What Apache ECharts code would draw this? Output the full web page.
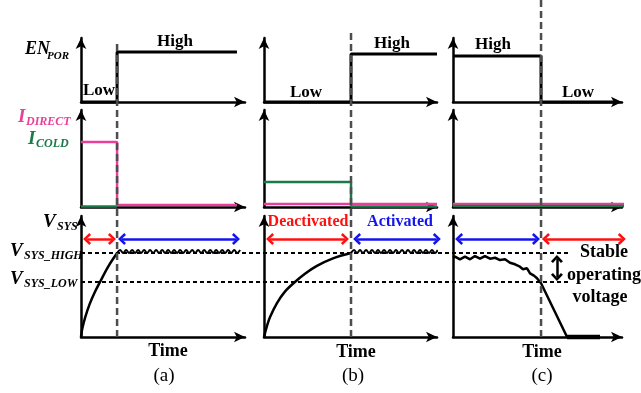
<!DOCTYPE html>
<html>
<head>
<meta charset="utf-8">
<script src="https://cdn.jsdelivr.net/npm/echarts@6/dist/echarts.min.js"></script>
<style>
html,body{margin:0;padding:0;background:#fff;}
#c{width:641px;height:393px;}
</style>
</head>
<body>
<div id="c"></div>
<script>
// ---------- DATA (time axis 0..100 per panel, level axis 0..100 per row) ----------
const panels = ['(a)', '(b)', '(c)'];
const switchTimes = [22.0, 50.3, 52.1];          // EN_POR switching instant per panel
const dashTopLevel = [88.1, 90.5, 100];          // top of the dashed switching marker (overlay scale)

// EN_POR
const enA = [[0,0],[22.0,0],[22.0,78.1],[95.1,78.1]];
const enB = [[0,0],[50.3,0],[50.3,75.0],[100,75.0]];
const enC = [[0,71.9],[52.1,71.9],[52.1,0],[97,0]];

// I_DIRECT / I_COLD
const iDirectA = [[0,67.0],[22.0,67.0],[22.0,2.1],[95.1,2.1]];
const iColdA   = [[0,0.6],[22.0,0.6]];
const iDirectB = [[0,3.1],[100,3.1]];
const iColdB   = [[0,25.8],[50.3,25.8],[50.3,0.6],[100,0.6]];
const iDirectC = [[0,3.1],[108.3,3.1]];
const iColdC   = [[0,1.0],[108.3,1.0]];

// V_SYS thresholds
const vsysHigh = 69.4;
const vsysLow = 45.5;

// V_SYS traces
const vsysRiseA = [[0,0],[0.8,7],[2.5,16],[5.2,27],[8.4,37],[11.6,45.5],[16.5,58],[22.0,69.4]];
const rippleAX = [22.0,23.8,25.7,27.5,29.3,31.2,33.0,34.8,36.6,38.5,40.3,42.1,44.0,45.8,47.6,49.5,51.3,53.1,55.0,56.8,58.6,60.4,62.3,64.1,65.9,67.8,69.6,71.4,73.3,75.1,76.9,78.8,80.6,82.4,84.2,86.1,87.9,89.7,91.6,93.4,95.2,97.0];
const rippleAY = [69.4,71.9,69.4,71.9,69.4,71.9,69.4,71.9,69.4,71.9,69.4,71.9,69.4,71.9,69.4,71.9,69.4,71.9,69.4,71.9,69.4,71.9,69.4,71.9,69.4,71.9,69.4,71.9,69.4,71.9,69.4,71.9,69.4,71.9,69.4,71.9,69.4,71.9,69.4,71.9,69.4,71.9];

const vsysRiseB = [[0,0],[1.7,9],[3.5,16.5],[7.5,28],[12.1,37.5],[17.9,45.5],[23.7,52.3],[30.6,58.8],[39.9,65],[50.3,69.4]];
const rippleBX = [50.3,52.0,53.8,55.5,57.2,59.0,60.7,62.4,64.2,65.9,67.6,69.4,71.1,72.8,74.6,76.3,78.0,79.8,81.5,83.2,85.0,86.7,88.4,90.2,91.9,93.6,95.4,97.1,98.8,100.4];
const rippleBY = [69.4,71.9,69.4,71.9,69.4,71.9,69.4,71.9,69.4,71.9,69.4,71.9,69.4,71.9,69.4,71.9,69.4,71.9,69.4,71.9,69.4,71.9,69.4,71.9,69.4,71.9,69.4,71.9,69.4,71.9];

const vsysFallC = [[0,65.5],[1.2,66.4],[4.1,64.2],[7.1,66.4],[10.1,64.2],[13.0,66.9],[16.0,64.7],[18.9,66.9],[21.9,64.7],[24.9,65.5],[27.8,63.6],[30.8,64.2],[33.7,61.4],[36.7,60.1],[39.6,58.1],[41.4,56.0],[43.8,56.8],[45.6,52.6],[47.9,50.7],[49.7,48.5],[52.1,44.4],[67.5,0]];
const vsysOffC = [[67.5,0],[87.0,0]];

// Phase arrows (level of the arrow row, start/end times)
const phaseLevel = 81.0;
const phasesA = [{from:3.7,to:18.9,state:'off'},{from:25.0,to:94.5,state:'on'}];
const phasesB = [{from:3.5,to:46.8,state:'off'},{from:53.8,to:99.9,state:'on'}];
const phasesC = [{from:3.6,to:49.1,state:'on'},{from:55.0,to:99.9,state:'off'}];
const stableArrowC = {time:61.5, from:64.5, to:49.6};

// ---------- LAYOUT / STYLE ----------
const colLayout = [{left:81,width:164},{left:264,width:173},{left:453,width:169}];
const rowLayout = [{top:38,height:64},{top:110,height:97},{top:216,height:121}];
const PINK = '#e8409a', GREEN = '#1b7a4a', RED = '#ff1010', BLUE = '#1414ee';
const SERIF = '"Liberation Serif", "Times New Roman", serif';
const chev = 'path://M5,0L10,6L8.3,7.7L5,3.4L1.7,7.7L0,6Z';

const grids = [], xAxes = [], yAxes = [], series = [];
const axisLineStyle = {show:true, symbol:['none','arrow'], symbolSize:[8,11], lineStyle:{color:'#000', width:2.5}};
function addAxes(gi, xmax, ymax, visible) {
  xAxes.push({gridIndex:gi, type:'value', min:0, max:xmax, show:visible, axisLine:axisLineStyle, axisTick:{show:false}, axisLabel:{show:false}, splitLine:{show:false}});
  yAxes.push({gridIndex:gi, type:'value', min:0, max:ymax, show:visible, axisLine:axisLineStyle, axisTick:{show:false}, axisLabel:{show:false}, splitLine:{show:false}});
}
for (let r = 0; r < 3; r++) {
  for (let c = 0; c < 3; c++) {
    grids.push({left:colLayout[c].left, top:rowLayout[r].top, width:colLayout[c].width, height:rowLayout[r].height, containLabel:false});
    addAxes(r*3+c, 100, 100, true);
  }
}
// overlays for the switching instants (full column height)
for (let c = 0; c < 3; c++) {
  grids.push({left:colLayout[c].left, top:0, width:colLayout[c].width, height:337});
  addAxes(9+c, 100, 100, false);
}
// overlay for the threshold lines across all panels
grids.push({left:81, top:rowLayout[2].top, width:487, height:rowLayout[2].height});
addAxes(12, 100, 100, false);

function line(gi, data, color, width, extra) {
  series.push(Object.assign({type:'line', xAxisIndex:gi, yAxisIndex:gi, data:data, symbol:'none', clip:false, silent:true,
    lineStyle:{color:color, width:width}, z:5}, extra || {}));
}
function zip(xs, ys) { return xs.map((x, i) => [x, ys[i]]); }

// Row 1: EN_POR
line(0, enA, '#000', 3);
line(1, enB, '#000', 3);
line(2, enC, '#000', 3);
// Row 2: currents
line(3, iColdA, GREEN, 2.5);
line(3, iDirectA, PINK, 2.5);
line(4, iColdB, GREEN, 2.5);
line(4, iDirectB, PINK, 2.5);
line(5, iDirectC, PINK, 2.5);
line(5, iColdC, GREEN, 2.5);

function phaseMarks(phases) {
  return phases.map(p => {
    const col = p.state === 'on' ? BLUE : RED;
    return [{coord:[p.from, phaseLevel], lineStyle:{color:col}, itemStyle:{color:col}}, {coord:[p.to, phaseLevel]}];
  });
}
function markLineOpt(data) {
  return {silent:true, symbol:[chev, chev], symbolSize:[12,8], animation:false, label:{show:false},
    lineStyle:{type:'solid', width:2.5}, data:data};
}
// Row 3: V_SYS
line(6, vsysRiseA, '#000', 2.5, {smooth:0.35, markLine: markLineOpt(phaseMarks(phasesA))});
line(6, zip(rippleAX, rippleAY), '#000', 2, {smooth:0.4});
line(7, vsysRiseB, '#000', 2.5, {smooth:0.35, markLine: markLineOpt(phaseMarks(phasesB))});
line(7, zip(rippleBX, rippleBY), '#000', 2, {smooth:0.4});
const stableMark = [[{coord:[stableArrowC.time, stableArrowC.from], lineStyle:{color:'#000'}, itemStyle:{color:'#000'}}, {coord:[stableArrowC.time, stableArrowC.to]}]];
line(8, vsysFallC, '#000', 2.5, {markLine: markLineOpt(phaseMarks(phasesC).concat(stableMark))});
line(8, vsysOffC, '#000', 4.5);

// switching instants (dashed)
for (let c = 0; c < 3; c++) {
  line(9+c, [[switchTimes[c], 0], [switchTimes[c], dashTopLevel[c]]], '#555', 2.5, {lineStyle:{color:'#4d4d4d', width:2.5, type:[7,4]}, z:6});
}
// thresholds
line(12, [[0, vsysHigh], [100, vsysHigh]], '#000', 2, {lineStyle:{color:'#000', width:2, type:[4,3]}, z:4});
line(12, [[0, vsysLow], [100, vsysLow]], '#000', 2, {lineStyle:{color:'#000', width:2, type:[4,3]}, z:4});

// ---------- TEXT ----------
function T(text, x, y, size, opt) {
  opt = opt || {};
  const font = (opt.italic ? 'italic ' : '') + (opt.bold === false ? '' : 'bold ') + size + 'px ' + SERIF;
  return {type:'text', x:x, y:y, z:100, silent:true,
    style:{text:text, font:font, fill:opt.color || '#000',
      align:opt.align || 'left', verticalAlign:'middle',
      textAlign:opt.align || 'left', textVerticalAlign:'middle'}};
}
const texts = [
  T('EN', 25, 49, 18, {italic:true}), T('POR', 47, 56, 11, {italic:true}),
  T('High', 175, 42, 17, {align:'center'}), T('Low', 99, 91, 17, {align:'center'}),
  T('Low', 306, 93, 17, {align:'center'}), T('High', 392, 44, 17, {align:'center'}),
  T('High', 493, 45, 17, {align:'center'}), T('Low', 578, 93, 17, {align:'center'}),
  T('I', 18, 117, 19, {italic:true, color:PINK}), T('DIRECT', 26, 122, 12, {italic:true, color:PINK}),
  T('I', 28, 139, 19, {italic:true, color:GREEN}), T('COLD', 36, 144, 12, {italic:true, color:GREEN}),
  T('V', 43, 222, 19, {italic:true}), T('SYS', 57, 227, 12, {italic:true}),
  T('V', 10, 251, 19, {italic:true}), T('SYS_HIGH', 24, 256, 12, {italic:true}),
  T('V', 10, 279, 19, {italic:true}), T('SYS_LOW', 24, 284, 12, {italic:true}),
  T('Deactivated', 308, 222, 16, {align:'center', color:RED}),
  T('Activated', 400, 222, 16, {align:'center', color:BLUE}),
  T('Stable', 604, 252, 18, {align:'center'}),
  T('operating', 604, 275, 18, {align:'center'}),
  T('voltage', 600, 297, 18, {align:'center'}),
  T('Time', 168, 351, 18, {align:'center'}),
  T('Time', 356, 352, 18, {align:'center'}),
  T('Time', 542, 352, 18, {align:'center'}),
  T(panels[0], 164, 376, 19, {align:'center', bold:false}),
  T(panels[1], 353, 376, 19, {align:'center', bold:false}),
  T(panels[2], 542, 376, 19, {align:'center', bold:false})
];

const chart = echarts.init(document.getElementById('c'), null, {renderer:'canvas'});
chart.setOption({
  animation:false,
  backgroundColor:'#fff',
  grid:grids, xAxis:xAxes, yAxis:yAxes, series:series,
  graphic:{elements:texts}
});
</script>
</body>
</html>
